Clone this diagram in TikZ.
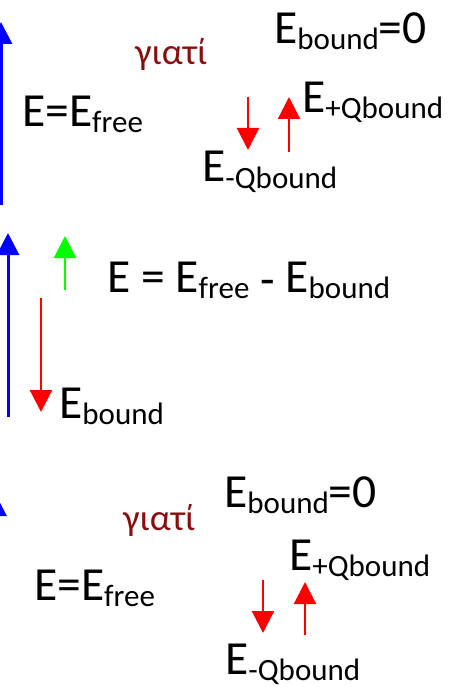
\documentclass[tikz,border=0pt]{standalone}
\usepackage{fontspec}
\setmainfont{Carlito}
\usepackage{tikz}
\usetikzlibrary{arrows.meta}
\definecolor{whyred}{RGB}{139,14,14}
\newcommand\lo[1]{\raisebox{-6pt}{\fontsize{31}{31}\selectfont #1}}
\tikzset{
  lbl/.style={inner sep=0pt, anchor=base west, font=\fontsize{47.5}{50}\selectfont},
  why/.style={inner sep=0pt, anchor=base west, text=whyred, font=\fontsize{37}{40}\selectfont},
  >={Triangle[width=22pt,length=22pt]},
  bluearr/.style={->, blue, line width=3pt},
  redarr/.style={->, red, line width=2.2pt},
  greenarr/.style={->, green, line width=2.2pt}
}

\begin{document}
\begin{tikzpicture}[x=1pt, y=-1pt]
  \useasboundingbox (0,0) rectangle (450,687);
  % Free case, top
  \node[why] (whyA) at (135,65) {γιατί};
  \node[lbl] (freeA) at (22,127) {E=E\lo{free}};
  \node[lbl] (zeroA) at (274,44) {E\lo{bound}=0};
  \node[lbl] (plusA) at (302,113) {E\lo{+Qbound}};
  \node[lbl] (minusA) at (202,182) {E\lo{-Qbound}};
  \coordinate (blueA0) at (1,205);
  \coordinate (blueA1) at (1,22);
  \coordinate (dnA0) at (248,97);
  \coordinate (dnA1) at (248,150);
  \coordinate (upA0) at (289,152);
  \coordinate (upA1) at (289,97);
  \draw[bluearr] (blueA0) -- (blueA1);
  \draw[redarr] (dnA0) -- (dnA1);
  \draw[redarr] (upA0) -- (upA1);
  % Bound case, middle
  \node[lbl] (diff) at (107,292) {E = E\lo{free} \raisebox{-3pt}{-} E\lo{bound}};
  \node[lbl] (bound) at (59,418) {E\lo{bound}};
  \coordinate (blueM0) at (8,417);
  \coordinate (blueM1) at (8,233);
  \coordinate (grnM0) at (65,290);
  \coordinate (grnM1) at (65,236);
  \coordinate (redM0) at (41,298);
  \coordinate (redM1) at (41,412);
  \draw[bluearr] (blueM0) -- (blueM1);
  \draw[greenarr] (grnM0) -- (grnM1);
  \draw[redarr] (redM0) -- (redM1);
  % Free case, bottom
  \node[why] (whyB) at (123,530) {γιατί};
  \node[lbl] (freeB) at (34,600) {E=E\lo{free}};
  \node[lbl] (zeroB) at (224,507) {E\lo{bound}=0};
  \node[lbl] (plusB) at (289,570) {E\lo{+Qbound}};
  \node[lbl] (minusB) at (225,674) {E\lo{-Qbound}};
  \coordinate (blueB0) at (-4.5,690);
  \coordinate (blueB1) at (-4.5,494);
  \coordinate (dnB0) at (263,580);
  \coordinate (dnB1) at (263,633);
  \coordinate (upB0) at (305,635);
  \coordinate (upB1) at (305,582);
  \draw[bluearr] (blueB0) -- (blueB1);
  \draw[redarr] (dnB0) -- (dnB1);
  \draw[redarr] (upB0) -- (upB1);
\end{tikzpicture}
\end{document}
